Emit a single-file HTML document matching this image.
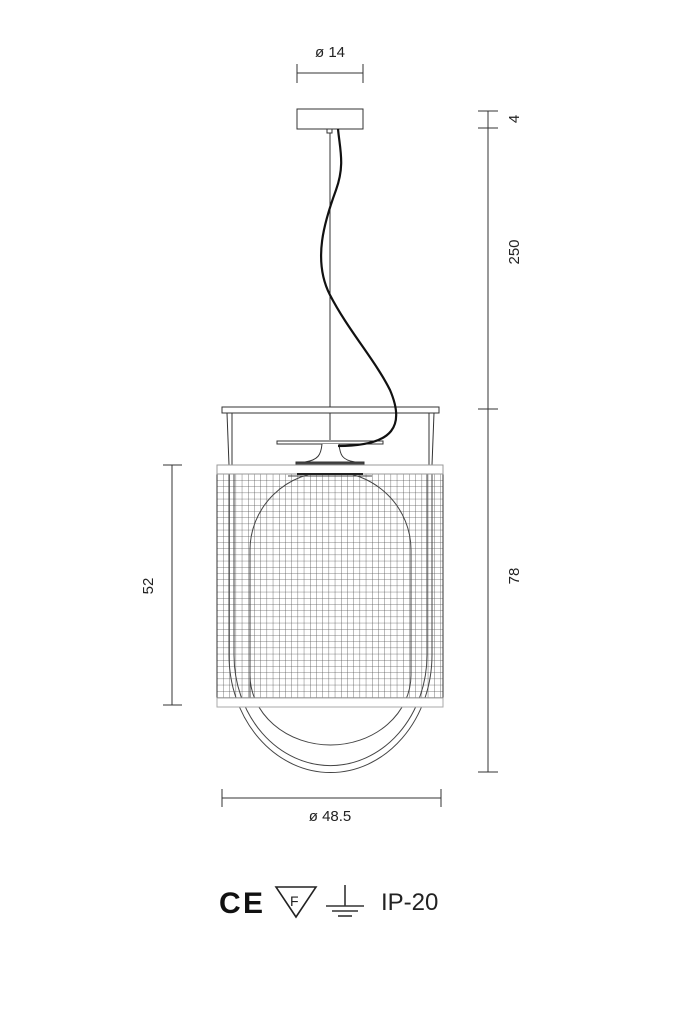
<!DOCTYPE html>
<html><head><meta charset="utf-8"><style>
html,body{margin:0;padding:0;background:#fff;width:699px;height:1024px;overflow:hidden}
text{font-family:"Liberation Sans",sans-serif;fill:#222}
</style></head><body>
<svg width="699" height="1024" viewBox="0 0 699 1024" xmlns="http://www.w3.org/2000/svg">
<defs>
<pattern id="g" x="217" y="474" width="6.2" height="6.2" patternUnits="userSpaceOnUse">
<path d="M0,0H6.2M0,0V6.2" stroke="#555" stroke-width="0.8" fill="none"/>
</pattern>
</defs>
<g stroke="#333" stroke-width="1" fill="none">
<line x1="297" y1="73" x2="363" y2="73"/><line x1="297" y1="64" x2="297" y2="83"/><line x1="363" y1="64" x2="363" y2="83"/>
<rect x="297" y="109" width="66" height="20" fill="#fff"/>
<rect x="327" y="129" width="5" height="4"/>
<line x1="330" y1="133" x2="330" y2="440"/>
<line x1="488" y1="111" x2="488" y2="772"/>
<line x1="478" y1="111" x2="498" y2="111"/><line x1="478" y1="128" x2="498" y2="128"/>
<line x1="478" y1="409" x2="498" y2="409"/><line x1="478" y1="772" x2="498" y2="772"/>
<line x1="172" y1="465" x2="172" y2="705"/>
<line x1="163" y1="465" x2="182" y2="465"/><line x1="163" y1="705" x2="182" y2="705"/>
<line x1="222" y1="798" x2="441" y2="798"/>
<line x1="222" y1="789" x2="222" y2="807"/><line x1="441" y1="789" x2="441" y2="807"/>
<rect x="222" y="407" width="217" height="6" fill="#fff"/>
<line x1="227" y1="413" x2="229" y2="465"/><line x1="232" y1="413" x2="232" y2="465"/>
<line x1="434" y1="413" x2="432" y2="465"/><line x1="429" y1="413" x2="429" y2="465"/>
<path d="M277,441 L383,441 L383,444 L277,444 Z" fill="#fff"/>
<path d="M322,444 C321,455 318,460 305,462 L355,462 C342,460 340,455 339,444" fill="#fff"/>
<rect x="296" y="462" width="68" height="3" fill="#444"/>
<rect x="217" y="474" width="226" height="224" fill="url(#g)"/>
<path d="M229,474 V655 A101,117 0 0 0 432,655 V474" stroke="#444"/>
<path d="M234,474 V655 A96,110 0 0 0 427,655 V474" stroke="#444"/>
<path d="M288,476 L372,476 M250,700 V550 A80,78 0 0 1 411,550 V675 A80.5,70 0 0 1 250,675 V700" stroke="#444"/>
<rect x="217" y="465" width="226" height="9" fill="#fff" stroke="#999"/>
<rect x="217" y="698" width="226" height="9" fill="#fff" stroke="#aaa"/>
<path d="M297,474 L363,474" stroke="#222" stroke-width="2"/>
<path d="M338,129 C340,150 345,165 336,190 C325,220 312,260 330,295 C348,330 375,360 390,390 C405,425 395,446 338,446" stroke="#111" stroke-width="2.2"/>
<path d="M276,887 L316,887 L296,917 Z" stroke="#222" stroke-width="1.6"/>
<line x1="345" y1="885" x2="345" y2="906" stroke-width="1.6"/>
<line x1="326" y1="906" x2="364" y2="906" stroke-width="1.6"/>
<line x1="332" y1="911" x2="358" y2="911" stroke-width="1.6"/>
<line x1="338" y1="916" x2="352" y2="916" stroke-width="1.6"/>
</g>
<text x="330" y="57" font-size="15" text-anchor="middle">ø 14</text>
<text x="330" y="821" font-size="15" text-anchor="middle">ø 48.5</text>
<text transform="translate(519,119) rotate(-90)" font-size="15" text-anchor="middle">4</text>
<text transform="translate(519,252) rotate(-90)" font-size="15" text-anchor="middle">250</text>
<text transform="translate(519,576) rotate(-90)" font-size="15" text-anchor="middle">78</text>
<text transform="translate(153,586) rotate(-90)" font-size="15" text-anchor="middle">52</text>
<text x="219" y="913" font-size="30" font-weight="bold" style="fill:#111">C</text>
<text x="243" y="913" font-size="30" font-weight="bold" style="fill:#111">E</text>
<text x="290" y="906" font-size="14">F</text>
<text x="381" y="910" font-size="24">IP-20</text>
</svg>
</body></html>
